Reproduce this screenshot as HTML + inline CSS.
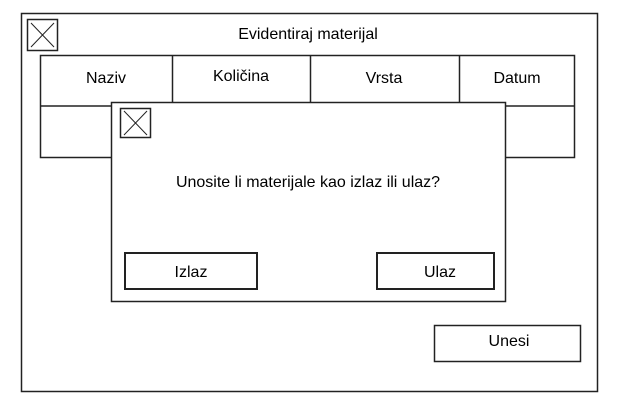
<!DOCTYPE html>
<html><head><style>
body{margin:0;width:617px;height:411px;background:#fff;overflow:hidden;font-family:"Liberation Sans",sans-serif;}
</style></head><body>
<svg width="617" height="411" xmlns="http://www.w3.org/2000/svg" font-family="Liberation Sans, sans-serif" font-size="16" fill="none" stroke="#222">
<rect x="21.5" y="13.5" width="576" height="378" stroke-width="1.5"/>
<rect x="27.5" y="19.5" width="30" height="31" stroke-width="1.5"/>
<line x1="31" y1="23" x2="54" y2="47"/><line x1="54" y1="23" x2="31" y2="47"/>
<text x="308" y="39" text-anchor="middle" fill="#000" stroke="none">Evidentiraj materijal</text>
<rect x="40.5" y="55.5" width="534" height="102" stroke-width="1.5"/>
<line x1="40" y1="106" x2="575" y2="106" stroke-width="1.5"/>
<line x1="172.5" y1="55" x2="172.5" y2="106" stroke-width="1.5"/>
<line x1="310.5" y1="55" x2="310.5" y2="106" stroke-width="1.5"/>
<line x1="459.5" y1="55" x2="459.5" y2="106" stroke-width="1.5"/>
<g fill="#000" stroke="none" text-anchor="middle">
<text x="106" y="83">Naziv</text><text x="241" y="81">Količina</text><text x="384" y="83">Vrsta</text><text x="517" y="83">Datum</text>
</g>
<rect x="111.5" y="102.5" width="394" height="199" fill="#fff" stroke-width="1.5"/>
<rect x="120.5" y="108.5" width="30" height="29" stroke-width="1.5"/>
<line x1="124" y1="111" x2="147" y2="135"/><line x1="147" y1="111" x2="124" y2="135"/>
<text x="308" y="187" text-anchor="middle" fill="#000" stroke="none">Unosite li materijale kao izlaz ili ulaz?</text>
<rect x="125" y="253" width="132" height="36" stroke-width="2"/>
<rect x="377" y="253" width="117" height="36" stroke-width="2"/>
<text x="191" y="277" text-anchor="middle" fill="#000" stroke="none">Izlaz</text>
<text x="440" y="277" text-anchor="middle" fill="#000" stroke="none">Ulaz</text>
<rect x="434.5" y="325.5" width="146" height="36" stroke-width="1.5"/>
<text x="509" y="346" text-anchor="middle" fill="#000" stroke="none">Unesi</text>
</svg>
</body></html>
